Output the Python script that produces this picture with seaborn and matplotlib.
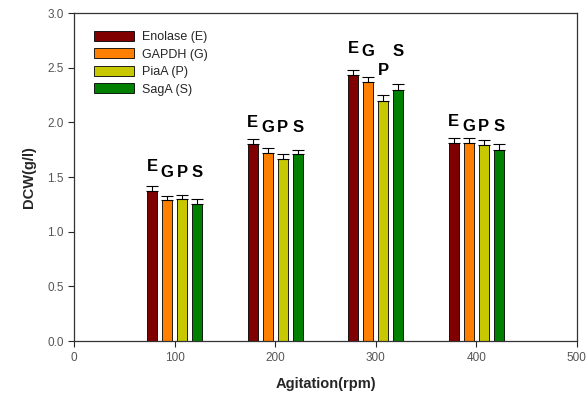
import numpy as np
import pandas as pd
import seaborn as sns
import matplotlib.pyplot as plt

# data
agitation = [100, 200, 300, 400]
genes = ["Enolase (E)", "GAPDH (G)", "PiaA (P)", "SagA (S)"]
letters = ["E", "G", "P", "S"]
enolase = [1.37, 1.80, 2.43, 1.81]
gapdh = [1.29, 1.72, 2.37, 1.81]
piaa = [1.30, 1.67, 2.20, 1.79]
saga = [1.25, 1.71, 2.30, 1.75]
enolase_err = [0.045, 0.045, 0.05, 0.05]
gapdh_err = [0.04, 0.045, 0.045, 0.05]
piaa_err = [0.04, 0.045, 0.05, 0.05]
saga_err = [0.05, 0.04, 0.05, 0.05]
# heights of the letter annotations above each bar
enolase_lbl = [1.60, 2.00, 2.68, 2.01]
gapdh_lbl = [1.54, 1.95, 2.65, 1.96]
piaa_lbl = [1.54, 1.95, 2.48, 1.96]
saga_lbl = [1.54, 1.95, 2.65, 1.96]

colors = ["#800000", "#ff8000", "#c8c800", "#008000"]

values = [enolase, gapdh, piaa, saga]
errors = [enolase_err, gapdh_err, piaa_err, saga_err]
label_heights = [enolase_lbl, gapdh_lbl, piaa_lbl, saga_lbl]

rows = []
for g, vals in zip(genes, values):
    for rpm, v in zip(agitation, vals):
        rows.append({"rpm": rpm, "gene": g, "dcw": v})
df = pd.DataFrame(rows)

sns.set_style("ticks")
plt.rcParams["font.family"] = ["Liberation Sans", "DejaVu Sans"]

fig = plt.figure(figsize=(5.88, 3.99), dpi=100)
ax = fig.add_axes([0.126, 0.145, 0.855, 0.822])

sns.barplot(data=df, x="rpm", y="dcw", hue="gene", hue_order=genes,
            palette=colors, saturation=1, native_scale=True, width=0.6, gap=0.33,
            errorbar=None, edgecolor="black", linewidth=0.6, ax=ax)

for container, errs, lbls, letter in zip(ax.containers, errors, label_heights, letters):
    xs = [b.get_x() + b.get_width() / 2 for b in container]
    hs = [b.get_height() for b in container]
    ax.errorbar(xs, hs, yerr=[np.zeros(len(errs)), errs], fmt="none",
                ecolor="black", elinewidth=0.8, capsize=4, capthick=0.8)
    for x, y in zip(xs, lbls):
        ax.text(x, y, letter, ha="center", va="center", fontsize=12,
                fontweight="bold", color="black")

ax.set_xlim(0, 500)
ax.set_ylim(0, 3.0)
ax.set_xticks([0, 100, 200, 300, 400, 500])
ax.set_yticks(np.arange(0, 3.01, 0.5))
ax.yaxis.set_major_formatter(plt.FormatStrFormatter("%.1f"))
ax.tick_params(labelsize=8.5, labelcolor="#555555", length=4, width=0.8)
for s in ax.spines.values():
    s.set_visible(True)
    s.set_linewidth(0.9)
    s.set_color("#333333")

ax.set_xlabel("Agitation(rpm)", fontsize=10.5, fontweight="bold", labelpad=10)
ax.set_ylabel("DCW(g/l)", fontsize=10.5, fontweight="bold", labelpad=8)

ax.legend(loc="upper left", bbox_to_anchor=(0.025, 0.97), frameon=False,
          fontsize=9, handlelength=3.2, handleheight=0.9,
          labelspacing=0.4, borderaxespad=0.2, handletextpad=0.6)

fig.savefig("out.png", dpi=100)
